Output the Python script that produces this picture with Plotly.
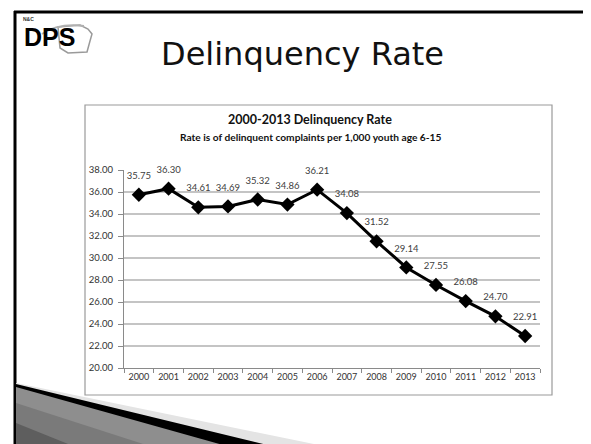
import plotly.graph_objects as go

# ---- data ----
years = ["2000", "2001", "2002", "2003", "2004", "2005", "2006",
         "2007", "2008", "2009", "2010", "2011", "2012", "2013"]
rates = [35.75, 36.30, 34.61, 34.69, 35.32, 34.86, 36.21,
         34.08, 31.52, 29.14, 27.55, 26.08, 24.70, 22.91]
slide_title = "Delinquency Rate"
chart_title = "2000-2013 Delinquency Rate"
chart_subtitle = "Rate is of delinquent complaints per 1,000 youth age 6-15"

W, H = 591, 444
ML, MR, MT, MB = 116, 59, 162, 84
PW, PH = W - ML - MR, H - MT - MB

def px(x):
    return (x - ML) / PW

def py(y):
    return (H - MB - y) / PH

NARROW = "Lato, sans-serif"

fig = go.Figure()
fig.add_trace(go.Scatter(
    x=years, y=rates,
    mode="lines+markers",
    line=dict(color="#000000", width=3),
    marker=dict(symbol="diamond", size=11, color="#000000"),
    hoverinfo="skip",
))
# value labels (transparent larger marker pushes label a bit higher)
fig.add_trace(go.Scatter(
    x=years, y=rates,
    mode="markers+text",
    marker=dict(size=20, color="rgba(0,0,0,0)"),
    text=[f"{v:.2f}" for v in rates],
    textposition="top center",
    textfont=dict(family=NARROW, size=9.5, color="#404040"),
    cliponaxis=False,
    hoverinfo="skip",
))

shapes = []
# slide border (top & left visible)
shapes.append(dict(type="line", xref="paper", yref="paper",
                   x0=px(7), x1=px(7), y0=py(3), y1=py(444),
                   line=dict(color="#000", width=3)))
shapes.append(dict(type="line", xref="paper", yref="paper",
                   x0=px(6), x1=px(591), y0=py(4), y1=py(4),
                   line=dict(color="#000", width=3)))
# chart box
shapes.append(dict(type="rect", xref="paper", yref="paper",
                   x0=px(77), x1=px(544), y0=py(387), y1=py(97),
                   line=dict(color="#9a9a9a", width=1.2),
                   fillcolor="rgba(0,0,0,0)", layer="below"))

def poly(points, fill, line=None):
    path = "M " + " L ".join(f"{px(a)},{py(b)}" for a, b in points) + " Z"
    return dict(type="path", xref="paper", yref="paper", path=path,
                fillcolor=fill, line=dict(width=0) if line is None else line,
                layer="above")

# bottom-left swoosh decoration
shapes.append(poly([(8, 375), (345, 444), (8, 444)], "#e4e4e4"))
shapes.append(poly([(8, 376), (288, 444), (8, 444)], "#000000"))
shapes.append(poly([(8, 379), (240, 444), (8, 444)], "#8e8e8e"))
shapes.append(poly([(8, 395), (160, 444), (8, 444)], "#7a7a7a"))
shapes.append(poly([(8, 415), (80, 444), (8, 444)], "#5e5e5e"))

# logo shape
shapes.append(poly([(50, 19), (72, 17), (80, 21), (84, 26), (82, 33),
                    (79, 44), (60, 45), (52, 40)], "#ffffff",
                   dict(color="#9a9a9a", width=1.5)))
shapes.append(dict(type="path", xref="paper", yref="paper",
                   path=f"M {px(34)},{py(26)} Q {px(50)},{py(15)} {px(76)},{py(18)}",
                   line=dict(color="#b0b0b0", width=2)))

DX, DY = -8, -8  # annotation placement correction

def ann(text, x, y, family, size, color="#111"):
    return dict(text=text, x=px(x + DX), y=py(y + DY), xref="paper",
                yref="paper", showarrow=False, xanchor="center",
                yanchor="middle",
                font=dict(family=family, size=size, color=color))

annotations = [
    ann("<b>DPS</b>", 49, 37, "Liberation Sans, Arial, sans-serif", 25, "#000"),
    ann("<b>N&C</b>", 28, 19, "Liberation Sans, Arial, sans-serif", 5, "#333"),
    ann(slide_title, 302, 54, "DejaVu Sans, sans-serif", 32),
    ann("<b>" + chart_title + "</b>", 310, 119, NARROW, 12.5),
    ann("<b>" + chart_subtitle + "</b>", 310, 137, NARROW, 10.2),
]

fig.update_layout(
    width=W, height=H,
    margin=dict(l=ML, r=MR, t=MT, b=MB, pad=0),
    paper_bgcolor="#ffffff", plot_bgcolor="#ffffff",
    showlegend=False,
    shapes=shapes,
    annotations=annotations,
    xaxis=dict(type="category", range=[-0.5, 13.5], tickson="boundaries",
               ticks="outside", ticklen=4, tickcolor="#8a8a8a",
               showline=True, linecolor="#8a8a8a", linewidth=1,
               showgrid=False, zeroline=False, tickangle=0,
               tickfont=dict(family=NARROW, size=9, color="#333")),
    yaxis=dict(range=[20, 38], dtick=2, tickformat=".2f",
               ticks="outside", ticklen=5, tickcolor="#8a8a8a",
               showline=True, linecolor="#8a8a8a", linewidth=1,
               showgrid=True, gridcolor="#c4c4c4", gridwidth=1.5,
               zeroline=False, ticklabelstandoff=3,
               tickfont=dict(family=NARROW, size=9.5, color="#333")),
)

fig.write_html("out.html")
